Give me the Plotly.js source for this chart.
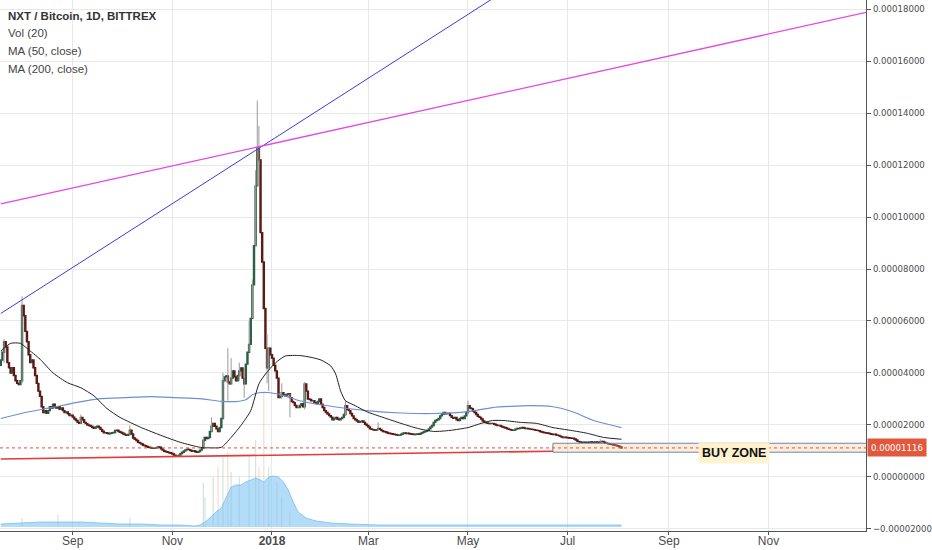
<!DOCTYPE html>
<html>
<head>
<meta charset="utf-8">
<script src="https://cdn.plot.ly/plotly-3.0.1.min.js"></script>
<style>
  html, body { margin: 0; padding: 0; background: #ffffff; }
  #chart { width: 932px; height: 550px; }
</style>
</head>
<body>
<div id="chart"></div>
<script>
// NXT / BTC daily closes, in units of 0.000001 BTC, one per day from 2017-07-19
const firstDay = '2017-07-19';
const firstOpen = 43;
const closes = [
  45, 48, 52, 50, 44, 42, 40, 42, 39, 37,
  36, 35.5, 37, 66, 62, 56, 52, 47, 44, 45,
  42, 39, 36, 33, 31, 27, 24.8, 25.5, 24.5, 25.5,
  27, 26.5, 28, 27, 26.5, 27, 26, 26.5, 25.5, 24.8,
  25, 24.3, 23.6, 23.8, 23, 22.3, 21.7, 21, 20.6, 22.9,
  22, 21, 20.5, 20, 19.8, 19.5, 19, 18.7, 19.2, 19.5,
  19, 18.3, 17.6, 17, 17, 16.8, 16.6, 16.8, 17, 17.1,
  17.9, 18, 17.5, 17.2, 16.9, 16.5, 16.2, 16, 16.3, 18,
  16.5, 15, 14.5, 14, 13.3, 13, 12.7, 12.2, 12, 11.7,
  11.4, 11.3, 11.1, 11, 11.1, 11.2, 11.5, 11.4, 10.8, 10.3,
  9.9, 9.7, 9.5, 9.3, 9.1, 8.8, 8.4, 8.0, 8.1, 8.4,
  9.0, 9.5, 10, 10.4, 10.7, 10.5, 10.2, 9.9, 10.1, 9.7,
  9.5, 9.8, 10.3, 11, 14.1, 15.2, 14.8, 15.2, 17.5, 19.5,
  20.6, 19.5, 18.5, 17.5, 19, 22.5, 37, 38.5, 38.9, 36.5,
  35.8, 38, 40.8, 38.5, 37, 39, 40.8, 41.9, 38, 35.8,
  43.4, 48, 51, 61, 73.9, 89, 112, 126.5, 122, 94,
  82.7, 64.8, 49.5, 42, 49.5, 47, 45.7, 43, 40.8, 38,
  30.5, 31, 32.4, 31.5, 31.2, 31.8, 32, 30.5, 29, 28.6,
  27.5, 26.7, 26.7, 27.5, 28.2, 27, 35.8, 33, 30, 29.8,
  29.3, 29.3, 28.6, 28.2, 29, 30, 28, 26.7, 25.5, 24.8,
  24.2, 23.6, 23, 22, 22.5, 22.9, 22.3, 22, 22.5, 22.9,
  24, 27.4, 26, 25.5, 24.4, 23.5, 22.5, 22, 21.5, 21,
  21.3, 21.5, 21, 20.3, 19.8, 19.2, 18.5, 18.3, 18.1, 17.9,
  18.2, 18.7, 18.3, 17.8, 17.5, 17.4, 17.1, 16.8, 16.7, 16.6,
  16.4, 16.3, 16.2, 16, 16.1, 16.4, 16.8, 16.9, 16.7, 16.8,
  16.6, 16.5, 16.4, 16.3, 16.4, 16.5, 16.4, 16.8, 17.1, 17.4,
  17.6, 17.9, 18.5, 19.2, 19.8, 21, 21.7, 22, 22.5, 23.5,
  24.2, 24.8, 24.3, 24.4, 24.4, 23.6, 22.9, 22.6, 22.9, 22,
  21.7, 22.5, 22.9, 22.5, 23.5, 24.8, 27.4, 26.5, 26.3, 25.3,
  24.8, 24, 23.3, 22.9, 22.3, 21.5, 21, 20.8, 20.6, 20.5,
  20.6, 20.6, 20.3, 20, 19.8, 19.8, 19.5, 19.2, 19, 18.8,
  18.5, 18.3, 18.1, 17.9, 18, 18.4, 18.7, 18.6, 18.8, 19,
  18.8, 18.6, 18.7, 18.5, 18.4, 18.3, 18.2, 18, 17.9, 17.8,
  17.5, 17.3, 17.1, 17, 16.9, 16.8, 16.6, 16.4, 16.3, 16.4,
  16.1, 16, 15.7, 15.4, 15.2, 15.3, 15.2, 15.1, 15, 14.9,
  14.9, 14.6, 14.2, 13.7, 13.5, 13.4, 13.3, 13.4, 13.3, 13.4,
  13.3, 13.5, 13.4, 13.3, 13.5, 13.4, 13.3, 13.6, 13.7, 13.4,
  13, 12.9, 12.7, 12.6, 12.5, 12.3, 12.2, 12, 11.8, 11.5, 11.16
];

// visible wicks (grey), units of 0.000001
const wickDates = ['2017-07-21', '2017-08-01', '2017-09-06', '2017-10-06', '2017-11-20', '2017-11-25',
  '2017-12-02', '2017-12-05', '2017-12-07', '2017-12-12', '2017-12-15', '2017-12-18', '2017-12-20',
  '2017-12-22', '2017-12-23', '2017-12-24', '2017-12-29', '2017-12-30', '2018-01-07', '2018-01-12',
  '2018-01-21', '2018-02-15', '2018-03-07', '2018-05-01', '2018-07-21'];
const wickLow = [44, 36, 20.5, 16, 11, 17.5, 22.5, 29.3, 35.8, 37, 30.5, 48, 61,
  89, 112, 120, 36, 33, 30, 23, 26, 23.5, 17.9, 24, 13.3];
const wickHigh = [53, 69.5, 24, 19.8, 15.5, 22.9, 40, 49.5, 45.7, 44, 41.9, 60, 76,
  118, 144.8, 135, 54.9, 50, 36, 32, 36.5, 29.3, 21, 29.3, 14.5];

// MA (50, close)
const ma50Dates = ['2017-07-19', '2017-07-25', '2017-07-31', '2017-08-04', '2017-08-12', '2017-08-20',
  '2017-08-29', '2017-09-06', '2017-09-14', '2017-09-22', '2017-09-30', '2017-10-13', '2017-10-25',
  '2017-11-06', '2017-11-18', '2017-11-24', '2017-12-01', '2017-12-07', '2017-12-13', '2017-12-19',
  '2017-12-24', '2017-12-28', '2018-01-03', '2018-01-09', '2018-01-18', '2018-01-25', '2018-01-31',
  '2018-02-06', '2018-02-09', '2018-02-12', '2018-02-15', '2018-02-21', '2018-02-28', '2018-03-10',
  '2018-03-21', '2018-03-31', '2018-04-10', '2018-04-20', '2018-05-01', '2018-05-09', '2018-05-16',
  '2018-05-23', '2018-06-02', '2018-06-12', '2018-06-22', '2018-07-03', '2018-07-13', '2018-07-23',
  '2018-08-03'];
const ma50Values = [48.4, 51.4, 51.4, 49.5, 45.3, 40, 36.2, 34.3, 31.2, 26.3, 22.9, 19, 16,
  13.3, 11.4, 11.2, 11.4, 15.2, 19.8, 25.5, 35.8, 39.6, 43.8, 46.5, 46.7, 46, 45,
  42.7, 39.6, 33.1, 29.3, 27.4, 25.1, 22.9, 20.6, 18.7, 17.5, 17.9, 19, 20.6, 21.7,
  21.7, 21, 20.6, 19, 17.9, 16.8, 15.2, 14.5];

// MA (200, close)
const ma200Dates = ['2017-07-19', '2017-08-03', '2017-08-19', '2017-09-03', '2017-09-18', '2017-10-03',
  '2017-10-19', '2017-11-03', '2017-11-18', '2017-12-01', '2017-12-10', '2017-12-16', '2017-12-20',
  '2017-12-24', '2017-12-31', '2018-01-09', '2018-01-18', '2018-02-08', '2018-02-28', '2018-03-21',
  '2018-04-10', '2018-05-01', '2018-05-16', '2018-06-07', '2018-06-22', '2018-07-04', '2018-07-17',
  '2018-08-03'];
const ma200Values = [22.5, 24.8, 26.7, 28.6, 30.1, 30.5, 30.9, 30.5, 30.1, 29.1, 29, 29.7, 31.6,
  32.4, 32.4, 31.2, 29.3, 27, 25.5, 24.6, 24.4, 25.1, 26.7, 27.4, 27, 25.1, 21.7, 19];

// Vol (20) moving average, relative units
const volMaDates = ['2017-07-19', '2017-07-31', '2017-08-12', '2017-08-25', '2017-09-06', '2017-09-18',
  '2017-09-30', '2017-10-13', '2017-10-25', '2017-11-06', '2017-11-15', '2017-11-18', '2017-11-21',
  '2017-11-24', '2017-11-27', '2017-12-01', '2017-12-04', '2017-12-07', '2017-12-10', '2017-12-13',
  '2017-12-16', '2017-12-19', '2017-12-22', '2017-12-25', '2017-12-27', '2017-12-30', '2018-01-02',
  '2018-01-05', '2018-01-08', '2018-01-11', '2018-01-14', '2018-01-17', '2018-01-22', '2018-01-28',
  '2018-02-06', '2018-02-18', '2018-03-08', '2018-04-20', '2018-06-20', '2018-08-03'];
const volMaValues = [3, 4, 5, 5, 5, 4, 3, 3, 2, 2, 1, 2, 5, 9, 14, 19, 30, 40, 42, 42,
  45, 47, 49, 47, 45, 50, 51, 50, 45, 37, 25, 15, 9, 6, 4, 3, 2, 2, 2, 2];

// single-day volume spikes that stand out, relative units
const volDates = ['2017-08-01', '2017-08-23', '2017-10-06', '2017-11-20', '2017-11-21', '2017-11-26',
  '2017-11-29', '2017-12-02', '2017-12-05', '2017-12-07', '2017-12-12', '2017-12-18', '2017-12-22',
  '2017-12-24', '2017-12-27', '2017-12-30', '2018-01-04', '2018-01-07', '2018-01-12'];
const volValues = [9, 12, 9, 44, 30, 50, 60, 70, 75, 55, 50, 71, 87, 60, 134, 60, 45, 30, 15];

const lastPrice = 0.00001116;
const buyZone = [0.00000952, 0.00001295];
const yTicks = [-0.00002, 0, 0.00002, 0.00004, 0.00006, 0.00008, 0.0001, 0.00012, 0.00014, 0.00016, 0.00018];
const xTickVals = ['2017-09-01', '2017-11-01', '2018-01-01', '2018-03-01', '2018-05-01', '2018-07-01', '2018-09-01', '2018-11-01'];
const xTickText = ['Sep', 'Nov', '<b>2018</b>', 'Mar', 'May', 'Jul', 'Sep', 'Nov'];

const U = 1e-6;
const FONT = 'Liberation Sans, Arial, sans-serif';
const NARROW = 'Liberation Sans Narrow, Arial Narrow, DejaVu Sans Condensed, sans-serif';

function dayToDate(i) {
    const d = new Date(Date.UTC(2017, 6, 19 + i));
    return d.toISOString().slice(0, 10);
}

function dateToIndex(s) {
    return Math.round((Date.parse(s) - Date.parse(firstDay)) / 86400000);
}

// pick a font size so the axis labels take about the reference width
function labelFontSize(family, target) {
    const ctx = document.createElement('canvas').getContext('2d');
    ctx.font = '12px ' + family;
    const w = ctx.measureText('0.00002000').width;
    return Math.min(12, 12 * target / w);
}

function buildChart() {
    const dates = closes.map((c, i) => dayToDate(i));
    const opens = closes.map((c, i) => (i === 0 ? firstOpen : closes[i - 1]) * U);
    const cl = closes.map(c => c * U);
    const hi = cl.map((c, i) => Math.max(c, opens[i]));
    const lo = cl.map((c, i) => Math.min(c, opens[i]));
    const axisSize = labelFontSize(NARROW, 52);

    // grey wicks as broken line segments
    const wx = [], wy = [];
    wickDates.forEach((d, i) => {
        wx.push(d, d, null);
        wy.push(wickLow[i] * U, wickHigh[i] * U, null);
    });

    const volColors = volDates.map(d => {
        const i = dateToIndex(d);
        const prev = i === 0 ? firstOpen : closes[i - 1];
        return closes[i] >= prev ? 'rgba(83,160,120,0.28)' : 'rgba(215,84,66,0.22)';
    });

    const traces = [
        {
            x: wx, y: wy, type: 'scatter', mode: 'lines',
            line: { color: '#9a9a9a', width: 1 },
            hoverinfo: 'skip', showlegend: false
        },
        {
            x: dates, open: opens, high: hi, low: lo, close: cl,
            type: 'candlestick',
            increasing: { line: { color: '#2d5e45', width: 1.4 }, fillcolor: '#5c9d7b' },
            decreasing: { line: { color: '#5b1a13', width: 1.4 }, fillcolor: '#c4473a' },
            whiskerwidth: 0,
            hoverinfo: 'skip', showlegend: false
        },
        {
            x: ma200Dates, y: ma200Values.map(v => v * U), type: 'scatter', mode: 'lines',
            line: { color: '#6f8fd0', width: 1.2, shape: 'spline', smoothing: 0.5 },
            hoverinfo: 'skip', showlegend: false
        },
        {
            x: ma50Dates, y: ma50Values.map(v => v * U), type: 'scatter', mode: 'lines',
            line: { color: '#222222', width: 1, shape: 'spline', smoothing: 0.6 },
            hoverinfo: 'skip', showlegend: false
        },
        {
            x: volDates, y: volValues, type: 'bar', yaxis: 'y2',
            marker: { color: volColors }, width: 0.7 * 86400000,
            hoverinfo: 'skip', showlegend: false
        },
        {
            x: volMaDates, y: volMaValues, type: 'scatter', mode: 'lines', yaxis: 'y2',
            fill: 'tozeroy', fillcolor: 'rgba(130,198,244,0.62)',
            line: { color: 'rgba(110,185,238,0.9)', width: 0.8 },
            hoverinfo: 'skip', showlegend: false
        }
    ];

    const legendLines = [
        { text: '<b>NXT / Bitcoin, 1D, BITTREX</b>', y: 16, color: '#333333' },
        { text: 'Vol (20)', y: 33, color: '#444444' },
        { text: 'MA (50, close)', y: 51, color: '#444444' },
        { text: 'MA (200, close)', y: 69, color: '#444444' }
    ];

    const annotations = legendLines.map(l => ({
        xref: 'paper', yref: 'paper', x: 0, xshift: 6, xanchor: 'left',
        y: 1 - l.y / 531, yanchor: 'middle', showarrow: false,
        text: l.text, font: { family: FONT, size: 11.5, color: l.color }
    }));

    annotations.push({
        xref: 'paper', yref: 'y', x: 1, xanchor: 'left', xshift: 1,
        y: lastPrice, yanchor: 'middle', showarrow: false,
        text: lastPrice.toFixed(8), bgcolor: '#e2583d', borderpad: 3,
        font: { family: NARROW, size: axisSize, color: '#ffffff' }
    });

    annotations.push({
        xref: 'x', yref: 'y', x: '2018-10-11', y: 0.0000091,
        showarrow: false, text: '<b>BUY ZONE</b>',
        bgcolor: 'rgba(255,243,205,0.92)', borderpad: 3,
        font: { family: FONT, size: 12.5, color: '#111111' }
    });

    const shapes = [
        {
            type: 'rect', xref: 'x', yref: 'y',
            x0: '2018-06-22', x1: '2019-01-10', y0: buyZone[0], y1: buyZone[1],
            fillcolor: 'rgba(255,190,130,0.28)',
            line: { color: '#6a86b8', width: 1 }
        },
        {
            type: 'line', xref: 'paper', yref: 'y', x0: 0, x1: 1, y0: lastPrice, y1: lastPrice,
            line: { color: '#e0533f', width: 1, dash: 'dot' }
        },
        {
            type: 'line', xref: 'x', yref: 'y',
            x0: '2017-07-19', y0: 0.0000069, x1: '2018-06-22', y1: 0.0000099,
            line: { color: '#e5393a', width: 1.6 }
        },
        {
            type: 'line', xref: 'x', yref: 'y',
            x0: '2017-07-19', y0: 0.0000629, x1: '2018-05-21', y1: 0.000186,
            line: { color: '#3c3cd8', width: 1 }
        },
        {
            type: 'line', xref: 'x', yref: 'y',
            x0: '2017-07-19', y0: 0.0001051, x1: '2019-01-01', y1: 0.0001789,
            line: { color: '#e646e6', width: 1.3 }
        }
    ];

    const layout = {
        width: 932,
        height: 550,
        margin: { t: 0, r: 66, b: 19, l: 0 },
        showlegend: false,
        hovermode: false,
        dragmode: false,
        boxgap: 0.1,
        plot_bgcolor: '#ffffff',
        paper_bgcolor: '#ffffff',
        font: { family: FONT, color: '#4c4c4c' },
        xaxis: {
            type: 'date',
            range: ['2017-07-18 12:00', '2018-12-30 16:00'],
            tickvals: xTickVals, ticktext: xTickText,
            tickfont: { family: FONT, size: 12, color: '#4c4c4c' },
            showgrid: true, gridcolor: '#e8e8e8',
            showline: true, linecolor: '#555555', linewidth: 1,
            ticks: 'outside', ticklen: 3, tickcolor: '#555555',
            ticklabelstandoff: -4,
            zeroline: false,
            rangeslider: { visible: false }
        },
        yaxis: {
            side: 'right',
            range: [-0.0000208, 0.0001835],
            tickvals: yTicks, tickformat: '.8f',
            tickfont: { family: NARROW, size: axisSize, color: '#4c4c4c' },
            showgrid: true, gridcolor: '#e8e8e8',
            showline: true, linecolor: '#555555', linewidth: 1,
            ticks: 'outside', ticklen: 4, tickcolor: '#555555',
            zeroline: false, fixedrange: true
        },
        yaxis2: {
            overlaying: 'y',
            range: [-4, 527],
            visible: false,
            fixedrange: true
        },
        shapes: shapes,
        annotations: annotations
    };

    Plotly.newPlot('chart', traces, layout, { displayModeBar: false, staticPlot: true });
}

document.addEventListener('DOMContentLoaded', buildChart);
</script>
</body>
</html>
